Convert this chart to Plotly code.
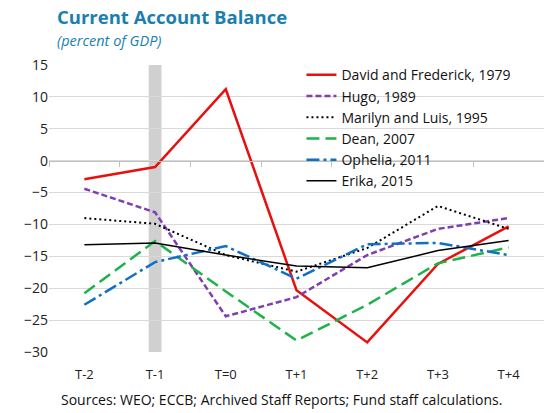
import plotly.graph_objects as go

categories = ["T-2", "T-1", "T=0", "T+1", "T+2", "T+3", "T+4"]
david = [-2.9, -1.0, 11.2, -20.3, -28.5, -16.2, -10.3]
hugo = [-4.4, -8.1, -24.4, -21.4, -14.8, -10.7, -9.0]
marilyn = [-9.0, -9.9, -14.8, -17.4, -13.7, -7.1, -10.7]
dean = [-20.8, -12.6, -20.5, -28.2, -22.6, -16.1, -13.6]
ophelia = [-22.6, -15.9, -13.4, -18.5, -13.1, -12.9, -14.8]
erika = [-13.2, -12.9, -14.8, -16.5, -16.8, -14.1, -12.5]
shade_cat = "T-1"
yticks = [15, 10, 5, 0, -5, -10, -15, -20, -25, -30]
boundaries = [-0.5, 0.5, 1.5, 2.5, 3.5, 4.5, 5.5, 6.5]

series = [
    ("David and Frederick, 1979", david, "#e8100f", 2.5, "solid"),
    ("Hugo, 1989", hugo, "#7f3fb0", 2.5, "6px,3px"),
    ("Marilyn and Luis, 1995", marilyn, "#000000", 2.0, "2px,3px"),
    ("Dean, 2007", dean, "#1db34a", 2.5, "13px,6px"),
    ("Ophelia, 2011", ophelia, "#0e70c6", 2.5, "13px,4px,3px,4px"),
    ("Erika, 2015", erika, "#000000", 1.5, "solid"),
]

fig = go.Figure()
for name, vals, color, w, dash in series:
    fig.add_trace(go.Scatter(x=categories, y=vals, name=name, mode="lines",
                             line=dict(color=color, width=w, dash=dash)))

fig.add_trace(go.Scatter(x=[boundaries[0], boundaries[-1]], y=[0, 0], xaxis="x2",
                         mode="lines", line=dict(width=0), showlegend=False,
                         hoverinfo="skip"))

idx = categories.index(shade_cat)
fig.add_shape(type="rect", xref="x", yref="y domain", x0=idx - 0.09, x1=idx + 0.09,
              y0=0, y1=1, fillcolor="#d0d0d0", line=dict(width=0), layer="below")

ymin, ymax = -30, 15
fig.update_layout(
    width=544, height=413,
    margin=dict(l=49, r=0, t=65, b=61, autoexpand=False),
    paper_bgcolor="white", plot_bgcolor="white",
    font=dict(family="Open Sans, Noto Sans, sans-serif", size=13, color="#222"),
    showlegend=True,
    legend=dict(x=0.51, y=1.02, xanchor="left", yanchor="top", bgcolor="rgba(0,0,0,0)",
                font=dict(size=14, color="#111"), itemwidth=30, tracegroupgap=0),
    xaxis=dict(range=[-0.5, 6.5], showgrid=False, zeroline=False, showline=False,
               ticks="", ticklabelstandoff=13, tickfont=dict(size=13, color="#222"),
               type="category"),
    xaxis2=dict(overlaying="x", anchor="free", position=(0 - ymin) / (ymax - ymin),
                range=[-0.5, 6.5], tickvals=boundaries, ticks="outside", ticklen=5,
                tickcolor="#bfbfbf", showticklabels=False, showline=True,
                linecolor="#bfbfbf", linewidth=1, showgrid=False, zeroline=False),
    yaxis=dict(range=[ymin, ymax], tickvals=yticks, showgrid=True, gridcolor="#d9d9d9",
               gridwidth=1, zeroline=False, showline=False, ticks="",
               tickfont=dict(size=14, color="#222")),
    annotations=[
        dict(text="<b>Current Account Balance</b>", xref="paper", yref="paper",
             x=0.012, y=1.17, xanchor="left", yanchor="middle", showarrow=False,
             font=dict(size=18.5, color="#1a7fb0", family="Open Sans, sans-serif")),
        dict(text="<i>(percent of GDP)</i>", xref="paper", yref="paper",
             x=0.012, y=1.085, xanchor="left", yanchor="middle", showarrow=False,
             font=dict(size=14.5, color="#1a7fb0")),
        dict(text="Sources: WEO; ECCB; Archived Staff Reports; Fund staff calculations.",
             xref="paper", yref="paper", x=0.469, y=-0.167, xanchor="center",
             yanchor="middle", showarrow=False, font=dict(size=14, color="#111")),
    ],
)

fig.write_html("out.html", config={"displayModeBar": False},
               post_script="document.body.style.margin='0';document.body.style.padding='0';")
